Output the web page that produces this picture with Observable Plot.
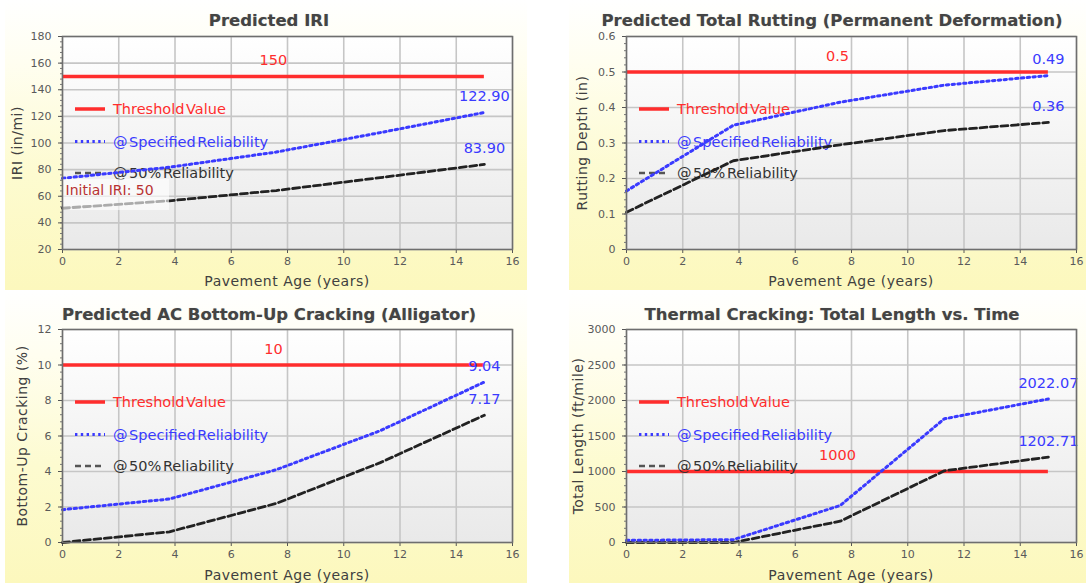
<!DOCTYPE html>
<html><head><meta charset="utf-8">
<script src="https://cdn.jsdelivr.net/npm/d3@7"></script>
<script src="https://cdn.jsdelivr.net/npm/@observablehq/plot@0.6"></script>
<style>
body{margin:0;background:#fff;font-family:"DejaVu Sans",Verdana,sans-serif;}
#root{position:relative;width:1086px;height:583px;overflow:hidden;background:#fff;}
.panel{position:absolute;background:linear-gradient(to bottom,#ffffff 0%,#fffef0 22%,#fdfbd0 60%,#fcf8bd 100%);}
.panel svg{position:absolute;left:0;top:0;}
.title{position:absolute;font-weight:bold;font-size:16.5px;color:#444;white-space:nowrap;transform:translate(-50%,-50%);text-shadow:0 0 1px rgba(0,0,0,0.25);}
.xlabel{position:absolute;font-size:14px;letter-spacing:0.5px;color:#404040;white-space:nowrap;transform:translate(-50%,-50%);}
.ylabel{position:absolute;font-size:14px;letter-spacing:0.5px;color:#404040;white-space:nowrap;transform:translate(-50%,-50%) rotate(-90deg);}
</style>
</head><body><div id="root"></div>
<script>
// ---------- data ----------
const ages = [0, 3.8, 7.6, 11.3, 15];
const iri50 = [51, 56.6, 64.3, 74, 83.9];
const iriSpec = [73.5, 81.8, 93.2, 107.8, 122.9];
const rut50 = [0.105, 0.25, 0.295, 0.335, 0.358];
const rutSpec = [0.165, 0.35, 0.415, 0.463, 0.49];
const crack50 = [0, 0.6, 2.2, 4.5, 7.17];
const crackSpec = [1.85, 2.45, 4.1, 6.3, 9.04];
const therm50 = [0, 0, 300, 1010, 1202.71];
const thermSpec = [30, 40, 521, 1742, 2022.07];
const thresholds = [150, 0.5, 10, 1000];
const thresholdLabels = ["150", "0.5", "10", "1000"];
const endLabelsSpec = ["122.90", "0.49", "9.04", "2022.07"];
const endLabels50 = ["83.90", "0.36", "7.17", "1202.71"];
const titles = ["Predicted IRI", "Predicted Total Rutting (Permanent Deformation)", "Predicted AC Bottom-Up Cracking (Alligator)", "Thermal Cracking: Total Length vs. Time"];
const yLabels = ["IRI (in/mi)", "Rutting Depth (in)", "Bottom-Up Cracking (%)", "Total Length (ft/mile)"];
const xLabel = "Pavement Age (years)";
const xTicks = [0, 2, 4, 6, 8, 10, 12, 14, 16];
const yTicks = [
  [20, 40, 60, 80, 100, 120, 140, 160, 180],
  [0, 0.1, 0.2, 0.3, 0.4, 0.5, 0.6],
  [0, 2, 4, 6, 8, 10, 12],
  [0, 500, 1000, 1500, 2000, 2500, 3000]
];
const yTickLabels = [
  ["20", "40", "60", "80", "100", "120", "140", "160", "180"],
  ["0", "0.1", "0.2", "0.3", "0.4", "0.5", "0.6"],
  ["0", "2", "4", "6", "8", "10", "12"],
  ["0", "500", "1000", "1500", "2000", "2500", "3000"]
];
const yMinorSteps = [4, 0.02, 0.4, 100];
const yDomains = [[20, 180], [0, 0.6], [0, 12], [0, 3000]];
const legendLabels = ["Threshold Value", "@ Specified Reliability", "@ 50% Reliability"];
const initialIRI = 50;
const initialLabel = "Initial IRI: 50";
const series50 = [iri50, rut50, crack50, therm50];
const seriesSpec = [iriSpec, rutSpec, crackSpec, thermSpec];

// ---------- style ----------
const FONT = '"DejaVu Sans", Verdana, sans-serif';
const RED = "#ff2d2d", BLUE = "#3a3aff", BLACK = "#222222";
const BLUEDASH = "2.4,3.4", BLACKDASH = "7,3.5";
const layout = [
  {left: 5, top: 0, w: 522, h: 290, ml: 57, mt: 36, mb: 41, yl: 12, title: [264, 20], xl: 281},
  {left: 569, top: 0, w: 517, h: 290, ml: 57, mt: 36, mb: 41, yl: 13, title: [263, 20], xl: 281},
  {left: 5, top: 290, w: 522, h: 293, ml: 57, mt: 39, mb: 41, yl: 17, title: [264, 24], xl: 285},
  {left: 569, top: 290, w: 517, h: 293, ml: 57, mt: 39, mb: 41, yl: 9, title: [263, 24], xl: 285}
];
const PLOTW = 450;
const legendRows = [
  {color: RED, text: RED, width: 3.5, dash: null},
  {color: BLUE, text: BLUE, width: 3, dash: BLUEDASH},
  {color: "#555", text: "#333", width: 2.6, dash: "6,4"}
];
const legendOffsets = [73, 105.5, 137];

const root = document.getElementById("root");

function bgMark(id) {
  return (index, scales, values, dims) => {
    const g = d3.create("svg:g");
    const grad = g.append("defs").append("linearGradient").attr("id", id)
      .attr("x1", 0).attr("y1", 0).attr("x2", 0).attr("y2", 1);
    grad.append("stop").attr("offset", "0%").attr("stop-color", "#ffffff");
    grad.append("stop").attr("offset", "100%").attr("stop-color", "#e9e9e9");
    g.append("rect")
      .attr("x", dims.marginLeft).attr("y", dims.marginTop)
      .attr("width", dims.width - dims.marginLeft - dims.marginRight)
      .attr("height", dims.height - dims.marginTop - dims.marginBottom)
      .attr("fill", `url(#${id})`);
    return g.node();
  };
}

function legendMark() {
  return (index, scales, values, dims) => {
    const g = d3.create("svg:g").attr("font-family", FONT).attr("font-size", 14.5)
      .attr("word-spacing", "-3").attr("text-anchor", "start");
    const x0 = dims.marginLeft + 13;
    legendRows.forEach((r, i) => {
      const y = dims.marginTop + legendOffsets[i];
      const ln = g.append("line").attr("x1", x0).attr("x2", x0 + 30).attr("y1", y).attr("y2", y)
        .attr("stroke", r.color).attr("stroke-width", r.width);
      if (r.dash) ln.attr("stroke-dasharray", r.dash);
      g.append("text").attr("x", x0 + 38).attr("y", y).attr("dy", "0.36em")
        .attr("text-anchor", "start")
        .attr("fill", r.text).text(legendLabels[i]);
    });
    return g.node();
  };
}

function initialBoxMark(x0, y0) {
  return (index, scales, values, dims) => {
    const g = d3.create("svg:g");
    const px = scales.x(x0), py = scales.y(y0);
    g.append("rect").attr("x", px).attr("y", py - 30).attr("width", 107).attr("height", 31)
      .attr("fill", "#ffffff").attr("fill-opacity", 0.62);
    return g.node();
  };
}

layout.forEach((L, i) => {
  const div = document.createElement("div");
  div.className = "panel";
  Object.assign(div.style, {left: L.left + "px", top: L.top + "px", width: L.w + "px", height: L.h + "px"});
  root.appendChild(div);

  const rows50 = ages.map((a, k) => ({age: a, v: series50[i][k]}));
  const rowsSpec = ages.map((a, k) => ({age: a, v: seriesSpec[i][k]}));
  const last = ages.length - 1;
  const thrRow = [{x1: ages[0], x2: ages[last], y: thresholds[i], label: thresholdLabels[i], xm: (ages[0] + ages[last]) / 2}];
  const endRows = [
    {x: ages[last], y: seriesSpec[i][last], t: endLabelsSpec[i]},
    {x: ages[last], y: series50[i][last], t: endLabels50[i]}
  ];
  const [d0, d1] = yDomains[i];
  const minor = d3.range(d0, d1 + yMinorSteps[i] / 2, yMinorSteps[i]);
  const tickLab = new Map(yTicks[i].map((t, k) => [t, yTickLabels[i][k]]));

  const marks = [
    bgMark("pg" + i),
    Plot.gridX(xTicks, {stroke: "#c6c6c6", strokeOpacity: 1, strokeWidth: 1.6}),
    Plot.gridY(yTicks[i], {stroke: "#c6c6c6", strokeOpacity: 1, strokeWidth: 1.6}),
    Plot.axisY({ticks: minor, tickSize: 2, tickFormat: () => "", label: null, stroke: "#777"}),
    Plot.axisY({ticks: yTicks[i], tickSize: 4, tickPadding: 7, tickFormat: d => tickLab.get(d) ?? "", label: null, fontSize: 11, stroke: "#555", fill: "#5a5a5a"}),
    Plot.axisX({ticks: xTicks, tickSize: 4, tickPadding: 4, label: null, fontSize: 11, stroke: "#555", fill: "#5a5a5a"}),
    Plot.ruleY(thrRow, {x1: "x1", x2: "x2", y: "y", stroke: RED, strokeWidth: 3.5}),
    legendMark(),
    Plot.line(rows50, {x: "age", y: "v", stroke: BLACK, strokeWidth: 2.8, strokeDasharray: BLACKDASH}),
    Plot.line(rowsSpec, {x: "age", y: "v", stroke: BLUE, strokeWidth: 3, strokeDasharray: BLUEDASH})
  ];
  if (i === 0) {
    marks.push(initialBoxMark(ages[0], initialIRI));
    marks.push(Plot.text([{x: ages[0], y: initialIRI, t: initialLabel}], {x: "x", y: "y", text: "t", textAnchor: "start", dx: 3, dy: -19, fill: "#b83232", fontSize: 14, fontFamily: FONT}));
  }
  marks.push(
    Plot.text(thrRow, {x: "xm", y: "y", text: "label", dy: -16, fill: RED, fontSize: 14.5, fontFamily: FONT}),
    Plot.text(endRows, {x: "x", y: "y", text: "t", dy: -16, fill: BLUE, fontSize: 14.5, fontFamily: FONT}),
    Plot.frame({stroke: "#6e6e6e", strokeWidth: 1.5})
  );

  const svg = Plot.plot({
    width: L.w, height: L.h,
    marginLeft: L.ml, marginRight: L.w - L.ml - PLOTW,
    marginTop: L.mt, marginBottom: L.mb,
    style: {background: "none", overflow: "visible", fontFamily: FONT, color: "#5a5a5a"},
    x: {domain: [0, 16]},
    y: {domain: yDomains[i]},
    marks
  });
  div.appendChild(svg);

  const t = document.createElement("div");
  t.className = "title"; t.textContent = titles[i];
  t.style.left = L.title[0] + "px"; t.style.top = L.title[1] + "px";
  div.appendChild(t);

  const xl = document.createElement("div");
  xl.className = "xlabel"; xl.textContent = xLabel;
  xl.style.left = (L.ml + PLOTW / 2) + "px"; xl.style.top = L.xl + "px";
  div.appendChild(xl);

  const yl = document.createElement("div");
  yl.className = "ylabel"; yl.textContent = yLabels[i];
  yl.style.left = L.yl + "px"; yl.style.top = (L.mt + (L.h - L.mt - L.mb) / 2) + "px";
  div.appendChild(yl);
});
</script>
</body></html>
